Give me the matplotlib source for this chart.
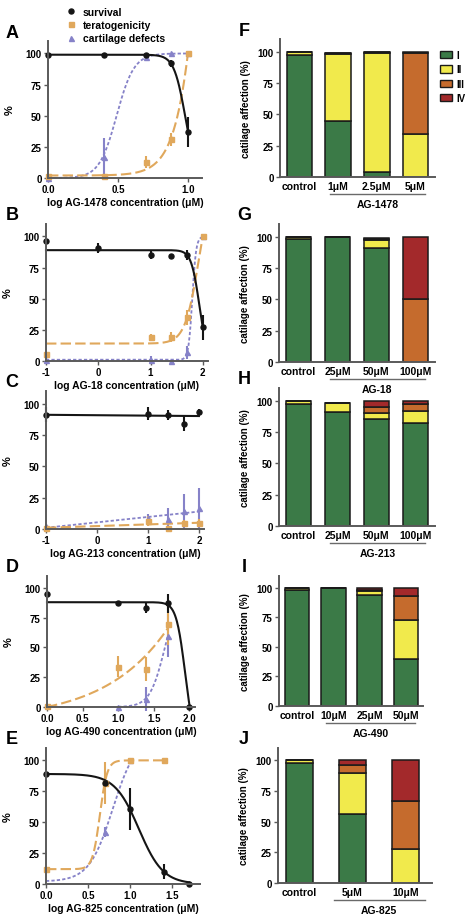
import matplotlib
matplotlib.use("Agg")
import matplotlib.pyplot as plt
import numpy as np
from matplotlib.patches import Patch
from matplotlib.lines import Line2D
import matplotlib.transforms as mtransforms

plt.rcParams['font.family'] = ['Liberation Sans', 'DejaVu Sans']
plt.rcParams['font.weight'] = 'bold'
plt.rcParams['axes.labelweight'] = 'bold'

# colours
BLACK = '#151515'
ORANGE = '#e0a85c'
PURPLE = '#8682c8'
GREEN = '#3b7a47'
YELLOW = '#f1ea4c'
BROWN = '#c56b2d'
RED = '#a3292b'
SPINE = '#5a5a5a'

# ---------------- dose-response data (x = log concentration in uM) ----------------
a_x = [0, 0.398, 0.699, 0.875, 1.0]
a_surv = [99, 99, 99, 92, 37]
a_surv_err = [0, 0, 0, 3, 12]
a_ter = [2, 2, 13, 31, 100]
a_ter_err = [0, 0, 5, 5, 0]
a_cart = [0, 17, 97, 100, 100]
a_cart_err = [0, 15, 2, 0, 0]

b_x = [-1, 0, 1, 1.398, 1.699, 2]
b_surv = [96, 91, 85, 84, 85, 27]
b_surv_err = [2, 4, 3, 2, 4, 10]
b_ter = [6, np.nan, 19, 19, 35, 100]
b_ter_err = [0, 0, 3, 4, 6, 0]
b_cart = [1, np.nan, 1, 0, 7, 100]
b_cart_err = [0, 0, 3, 0, 5, 0]

c_x = [-1, 1, 1.398, 1.699, 2]
c_surv = [91, 92, 91, 84, 93]
c_surv_err = [6, 5, 4, 6, 3]
c_ter = [1, 6, 1, 5, 5]
c_ter_err = [0, 4, 0, 2, 3]
c_cart = [2, 9, 8, 14, 17]
c_cart_err = [0, 3, 9, 14, 16]

d_x = [0, 1, 1.398, 1.699, 2]
d_surv = [95, 87, 83, 87, 0]
d_surv_err = [3, 1, 4, 8, 0]
d_ter = [1, 34, 32, 70, np.nan]
d_ter_err = [0, 9, 10, 18, 0]
d_cart = [np.nan, 0, 7, 60, np.nan]
d_cart_err = [0, 0, 10, 18, 0]

e_x = [0, 0.699, 1, 1.398, 1.699]
e_surv = [89, 82, 61, 10, 0]
e_surv_err = [2, 0, 17, 6, 0]
e_ter = [12, 82, 100, 100, np.nan]
e_ter_err = [0, 17, 0, 0, 0]
e_cart = [np.nan, 42, 100, np.nan, np.nan]
e_cart_err = [0, 4, 0, 0, 0]

# fitted curves: ('hill', bottom, top, logEC50, hill slope, x start, x end)
#                ('lin', slope, intercept, x start, x end)
a_fits = [('hill', 0, 100, 0.49, 7, 0, 1.0),
          ('hill', 2, 1000, 1.214, 4.49, 0, 1.0),
          ('hill', 0, 99, 0.98, -10.8, 0, 1.0)]
b_fits = [('hill', 1, 100, 1.8, 12, -1, 2),
          ('hill', 14, 150, 1.927, 3.25, -1, 2),
          ('hill', 0, 89, 1.935, -5.6, -1, 2)]
c_fits = [('lin', 4.3, 5.3, -1, 2),
          ('lin', 1.33, 2.33, -1, 2),
          ('lin', -0.33, 90.7, -1, 2)]
d_fits = [('hill', 0, 100, 1.657, 4.12, 1.0, 1.699),
          ('hill', -11, 5000, 5.31, 0.5, 0, 1.699),
          ('hill', -30, 88, 1.94, -7, 0, 2.0)]
e_fits = [('hill', 2, 120, 0.794, 3.09, 0, 1.0),
          ('hill', 12, 100, 0.64, 10, 0, 1.398),
          ('hill', 0, 89, 1.104, -3.03, 0, 1.699)]

# ---------------- cartilage affection data (%) ----------------
f_cats = ['control', '1μM', '2.5μM', '5μM']
f_I = [97, 45, 4, 0]
f_II = [3, 53, 95, 34]
f_III = [0, 1, 1, 65]
f_IV = [0, 0, 0, 1]

g_cats = ['control', '25μM', '50μM', '100μM']
g_I = [98, 100, 91, 0]
g_II = [2, 0, 6, 0]
g_III = [0, 0, 1, 50]
g_IV = [0, 0, 1, 50]

h_cats = ['control', '25μM', '50μM', '100μM']
h_I = [97, 91, 85, 82]
h_II = [3, 7, 5, 10]
h_III = [0, 0, 5, 5]
h_IV = [0, 0, 5, 3]

i_cats = ['control', '10μM', '25μM', '50μM']
i_I = [98, 100, 94, 40]
i_II = [2, 0, 3, 33]
i_III = [0, 0, 1, 20]
i_IV = [0, 0, 2, 7]

j_cats = ['control', '5μM', '10μM']
j_I = [98, 56, 0]
j_II = [2, 34, 28]
j_III = [0, 6, 39]
j_IV = [0, 4, 33]

W, H = 472, 920
fig = plt.figure(figsize=(W / 100, H / 100), dpi=100)


def rect(l, r, t, b):
    return [l / W, 1 - b / H, (r - l) / W, (b - t) / H]


def style(ax):
    ax.patch.set_alpha(0)
    for s in ['top', 'right']:
        ax.spines[s].set_visible(False)
    for s in ['left', 'bottom']:
        ax.spines[s].set_color(SPINE)
        ax.spines[s].set_linewidth(1.4)
    ax.tick_params(direction='out', length=3, width=1, color=SPINE,
                   labelsize=7, pad=1.5)
    ax.set_ylim(0, 110)
    ax.set_yticks([0, 25, 50, 75, 100])


def curve(ax, fit, **kw):
    if fit[0] == 'hill':
        b, t, c, h, x0, x1 = fit[1:]
        xs = np.linspace(x0, x1, 300)
        ys = b + (t - b) / (1 + 10 ** ((c - xs) * h))
    else:
        m, q, x0, x1 = fit[1:]
        xs = np.linspace(x0, x1, 2)
        ys = m * xs + q
    ax.plot(xs, ys, clip_on=False, **kw)


def dose_panel(r, letter, x, series, fits, xlim, xticks, xticklabels, xlabel):
    ax = fig.add_axes(rect(*r))
    style(ax)
    styles = [(PURPLE, '^', (0, (1.8, 1.2)), 1.3),
              (ORANGE, 's', (0, (5, 2)), 1.5),
              (BLACK, 'o', '-', 1.5)]
    for (vals, errs), fit, (col, mk, ls, lw) in zip(series, fits, styles):
        curve(ax, fit, color=col, ls=ls, lw=lw)
        ax.errorbar(x, vals, yerr=errs, fmt=mk, color=col, ms=3.6,
                    elinewidth=1.5, capsize=0, clip_on=False)
    ax.set_xlim(*xlim)
    ax.set_xticks(xticks)
    ax.set_xticklabels(xticklabels)
    ax.set_ylabel('%', fontsize=8, labelpad=8)
    ax.set_xlabel(xlabel, fontsize=7.5, labelpad=2)
    fig.text(12 / W, 1 - (r[2] - 9) / H, letter, fontsize=13,
             ha='center', va='center', fontweight='bold')
    return ax


def bar_panel(r, letter, cats, parts, width, xlim, drug, span):
    ax = fig.add_axes(rect(*r))
    style(ax)
    x = np.arange(len(cats))
    bottom = np.zeros(len(cats))
    for vals, col in zip(parts, [GREEN, YELLOW, BROWN, RED]):
        ax.bar(x, vals, width, bottom=bottom, color=col,
               edgecolor='#1a1a1a', linewidth=1.1)
        bottom += np.array(vals)
    ax.set_xlim(*xlim)
    ax.set_xticks(x)
    ax.set_xticklabels(cats, fontsize=7.5)
    ax.tick_params(axis='x', length=0, pad=3)
    ax.set_ylabel('catilage affection (%)', fontsize=7, labelpad=5)
    hpx = r[3] - r[2]
    tr = mtransforms.blended_transform_factory(ax.transData, ax.transAxes)
    ax.plot(span, [-17 / hpx] * 2, transform=tr, clip_on=False,
            color='#6a6a6a', lw=1)
    ax.text(np.mean(span), -27 / hpx, drug, transform=tr, ha='center',
            va='center', fontsize=7.5, zorder=10)
    fig.text(244 / W, 1 - (r[2] - 9) / H, letter, fontsize=13,
             ha='center', va='center', fontweight='bold')
    return ax


lbl = 'log {} concentration (μM)'
dose_panel((48, 202, 42, 179), 'A', a_x,
           [(a_cart, a_cart_err), (a_ter, a_ter_err), (a_surv, a_surv_err)],
           a_fits, (0, 1.1), [0, 0.5, 1.0], ['0.0', '0.5', '1.0'],
           lbl.format('AG-1478'))
dose_panel((46, 208, 225, 362), 'B', b_x,
           [(b_cart, b_cart_err), (b_ter, b_ter_err), (b_surv, b_surv_err)],
           b_fits, (-1, 2.1), [-1, 0, 1, 2], ['-1', '0', '1', '2'],
           lbl.format('AG-18'))
dose_panel((46, 204, 392, 530), 'C', c_x,
           [(c_cart, c_cart_err), (c_ter, c_ter_err), (c_surv, c_surv_err)],
           c_fits, (-1, 2.1), [-1, 0, 1, 2], ['-1', '0', '1', '2'],
           lbl.format('AG-213'))
dose_panel((47, 195, 577, 708), 'D', d_x,
           [(d_cart, d_cart_err), (d_ter, d_ter_err), (d_surv, d_surv_err)],
           d_fits, (0, 2.08), [0, 0.5, 1.0, 1.5, 2.0],
           ['0.0', '0.5', '1.0', '1.5', '2.0'], lbl.format('AG-490'))
dose_panel((46, 200, 749, 885), 'E', e_x,
           [(e_cart, e_cart_err), (e_ter, e_ter_err), (e_surv, e_surv_err)],
           e_fits, (0, 1.83), [0, 0.5, 1.0, 1.5],
           ['0.0', '0.5', '1.0', '1.5'], lbl.format('AG-825'))

bar_panel((280, 435, 40, 178), 'F', f_cats, [f_I, f_II, f_III, f_IV],
          0.66, (-0.5, 3.5), 'AG-1478', [0.8, 3.25])
bar_panel((279, 435, 225, 363), 'G', g_cats, [g_I, g_II, g_III, g_IV],
          0.66, (-0.5, 3.5), 'AG-18', [0.8, 3.25])
bar_panel((279, 435, 389, 527), 'H', h_cats, [h_I, h_II, h_III, h_IV],
          0.66, (-0.5, 3.5), 'AG-213', [0.8, 3.25])
bar_panel((279, 423, 577, 707), 'I', i_cats, [i_I, i_II, i_III, i_IV],
          0.68, (-0.5, 3.47), 'AG-490', [0.8, 3.25])
bar_panel((278, 432, 749, 884), 'J', j_cats, [j_I, j_II, j_III, j_IV],
          0.5, (-0.4, 2.5), 'AG-825', [0.65, 2.36])

# legends
dose_handles = [Line2D([], [], color=BLACK, marker='o', ls='', ms=3.6),
                Line2D([], [], color=ORANGE, marker='s', ls='', ms=3.6),
                Line2D([], [], color=PURPLE, marker='^', ls='', ms=3.6)]
fig.legend(dose_handles, ['survival', 'teratogenicity', 'cartilage defects'],
           loc='upper left', bbox_to_anchor=(66 / W, 1 - 8 / H), frameon=False,
           fontsize=7.5, handlelength=1.0, handletextpad=0.6,
           labelspacing=0.3, borderpad=0, borderaxespad=0)

bar_handles = [Patch(facecolor=c, edgecolor='#1a1a1a', lw=1)
               for c in [GREEN, YELLOW, BROWN, RED]]
fig.legend(bar_handles, ['I', 'II', 'III', 'IV'], loc='upper left',
           bbox_to_anchor=(440 / W, 1 - 51 / H), frameon=False, fontsize=7,
           handlelength=1.2, handleheight=0.8, handletextpad=0.5,
           labelspacing=0.45, borderpad=0, borderaxespad=0)

fig.savefig('out.png', dpi=100)
